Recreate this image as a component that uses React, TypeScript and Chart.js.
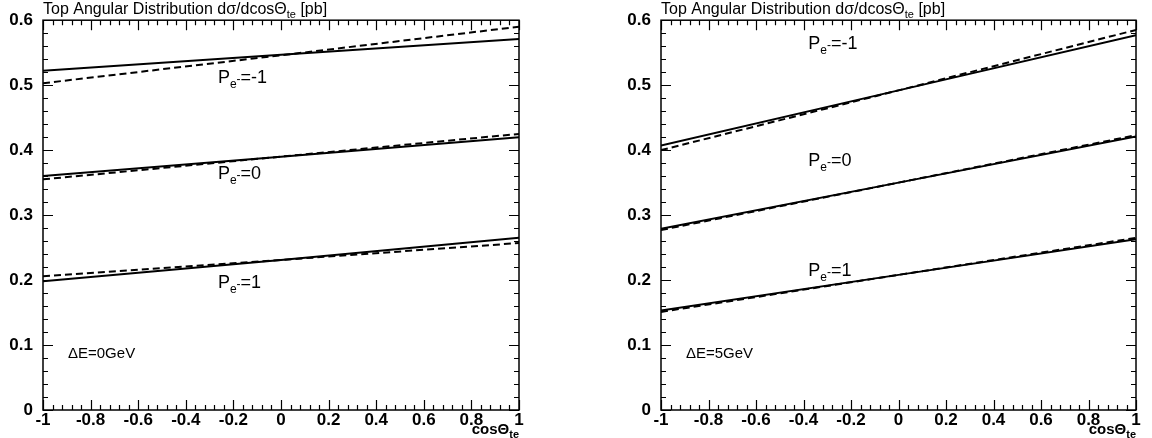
import React, { useEffect, useRef } from "react";
import { Chart, registerables } from "chart.js";

Chart.register(...registerables);

// ---------- data ----------
const cosTheta = [-1, 0, 1];

// ΔE = 0 GeV panel
const dE0_Pm1_solid = [0.522, 0.547, 0.571];
const dE0_Pm1_dashed = [0.503, 0.546, 0.59];
const dE0_P0_solid = [0.36, 0.39, 0.42];
const dE0_P0_dashed = [0.355, 0.39, 0.425];
const dE0_P1_solid = [0.198, 0.231, 0.265];
const dE0_P1_dashed = [0.206, 0.231, 0.257];

// ΔE = 5 GeV panel
const dE5_Pm1_solid = [0.407, 0.492, 0.577];
const dE5_Pm1_dashed = [0.4, 0.492, 0.585];
const dE5_P0_solid = [0.279, 0.35, 0.421];
const dE5_P0_dashed = [0.277, 0.35, 0.423];
const dE5_P1_solid = [0.153, 0.208, 0.263];
const dE5_P1_dashed = [0.151, 0.208, 0.265];

const xTicks = [-1, -0.8, -0.6, -0.4, -0.2, 0, 0.2, 0.4, 0.6, 0.8, 1];
const yTicks = [0, 0.1, 0.2, 0.3, 0.4, 0.5, 0.6];

// annotation labels: [polarisation value text, x, baseline y]
const dE0_labels: [string, number, number][] = [
  ["=-1", -0.265, 0.503],
  ["=0", -0.265, 0.356],
  ["=1", -0.265, 0.188],
];
const dE5_labels: [string, number, number][] = [
  ["=-1", -0.38, 0.556],
  ["=0", -0.38, 0.376],
  ["=1", -0.38, 0.207],
];

const FONT = "'Liberation Sans', Arial, Helvetica, sans-serif";

type Seg = [string, number, number, string?];

function drawRich(ctx: CanvasRenderingContext2D, x: number, y: number, segs: Seg[]) {
  let cx = x;
  ctx.textAlign = "left";
  ctx.textBaseline = "alphabetic";
  for (const [t, size, dy, weight] of segs) {
    ctx.font = `${weight || "normal"} ${size}px ${FONT}`;
    ctx.fillText(t, cx, y + dy);
    cx += ctx.measureText(t).width;
  }
  return cx;
}

function richWidth(ctx: CanvasRenderingContext2D, segs: Seg[]) {
  let w = 0;
  for (const [t, size, , weight] of segs) {
    ctx.font = `${weight || "normal"} ${size}px ${FONT}`;
    w += ctx.measureText(t).width;
  }
  return w;
}

function makeLine(data: number[], dashed: boolean) {
  return {
    data: cosTheta.map((c, i) => ({ x: c, y: data[i] })),
    borderColor: "#000",
    borderWidth: 2,
    borderDash: dashed ? [7, 4] : [],
    pointRadius: 0,
    fill: false,
    tension: 0,
  };
}

function fmt(v: number) {
  const r = Math.round(v * 10) / 10;
  return String(r === 0 ? 0 : r);
}

interface PanelProps {
  series: number[][];
  labels: [string, number, number][];
  deltaE: string;
  axisLeft: number;
  padRight: number;
}

function Panel({ series, labels, deltaE, axisLeft, padRight }: PanelProps) {
  const ref = useRef<HTMLCanvasElement | null>(null);

  useEffect(() => {
    if (!ref.current) return;

    const framePlugin = {
      id: "frameTicks",
      afterDraw(chart: any) {
        const ctx: CanvasRenderingContext2D = chart.ctx;
        const { left, right, top, bottom } = chart.chartArea;
        const xs = chart.scales.x;
        const ys = chart.scales.y;
        ctx.save();
        ctx.strokeStyle = "#000";
        ctx.lineWidth = 1.5;
        ctx.setLineDash([]);
        ctx.strokeRect(left, top, right - left, bottom - top);
        ctx.lineWidth = 1.2;
        ctx.beginPath();
        for (let i = 0; i <= 50; i++) {
          const v = -1 + i * 0.04;
          const px = Math.round(xs.getPixelForValue(v)) + 0.5;
          const len = i % 5 === 0 ? 10 : 5;
          ctx.moveTo(px, bottom);
          ctx.lineTo(px, bottom - len);
          ctx.moveTo(px, top);
          ctx.lineTo(px, top + len);
        }
        for (let i = 0; i <= 30; i++) {
          const v = i * 0.02;
          const py = Math.round(ys.getPixelForValue(v)) + 0.5;
          const len = i % 5 === 0 ? 10 : 5;
          ctx.moveTo(left, py);
          ctx.lineTo(left + len, py);
          ctx.moveTo(right, py);
          ctx.lineTo(right - len, py);
        }
        ctx.stroke();

        // texts
        ctx.fillStyle = "#000";
        // title
        drawRich(ctx, left, 14, [
          ["Top Angular Distribution d\u03c3/dcos\u0398", 16, 0],
          ["te", 11, 4],
          [" [pb]", 16, 0],
        ]);
        // x axis title
        const xt: Seg[] = [
          ["cos\u0398", 15, 0, "bold"],
          ["te", 11, 4, "bold"],
        ];
        const w = richWidth(ctx, xt);
        drawRich(ctx, right - w, 434, xt);
        // annotations
        for (const [t, lx, ly] of labels) {
          const px = xs.getPixelForValue(lx);
          const py = ys.getPixelForValue(ly);
          drawRich(ctx, px, py, [
            ["P", 18, 0],
            ["e", 12, 5],
            ["-", 12, 0],
            [t, 18, 0],
          ]);
        }
        ctx.font = `normal 15px ${FONT}`;
        ctx.fillText(deltaE, xs.getPixelForValue(-0.895), ys.getPixelForValue(0.08));
        ctx.restore();
      },
    };

    const chart = new Chart(ref.current, {
      type: "line",
      data: {
        datasets: [
          makeLine(series[0], false),
          makeLine(series[1], true),
          makeLine(series[2], false),
          makeLine(series[3], true),
          makeLine(series[4], false),
          makeLine(series[5], true),
        ],
      },
      options: {
        responsive: false,
        animation: false,
        events: [],
        layout: { padding: { top: 19, right: padRight, left: 0, bottom: 0 } },
        plugins: {
          legend: { display: false },
          tooltip: { enabled: false },
          title: { display: false },
        },
        scales: {
          x: {
            type: "linear",
            min: -1,
            max: 1,
            afterBuildTicks(scale: any) {
              scale.ticks = xTicks.map((v) => ({ value: v }));
            },
            afterFit(scale: any) {
              scale.height = 28;
            },
            ticks: {
              callback: (v: any) => fmt(Number(v)),
              font: { family: FONT, size: 17, weight: "bold" },
              color: "#000",
              maxRotation: 0,
              autoSkip: false,
              padding: 0,
            },
            grid: { display: false, drawTicks: false },
            border: { display: false },
          },
          y: {
            type: "linear",
            min: 0,
            max: 0.6,
            afterBuildTicks(scale: any) {
              scale.ticks = yTicks.map((v) => ({ value: v }));
            },
            afterFit(scale: any) {
              scale.width = axisLeft;
            },
            ticks: {
              callback: (v: any) => fmt(Number(v)),
              font: { family: FONT, size: 17, weight: "bold" },
              color: "#000",
              autoSkip: false,
              padding: 10,
            },
            grid: { display: false, drawTicks: false },
            border: { display: false },
          },
        },
      } as any,
      plugins: [framePlugin],
    });
    return () => chart.destroy();
  }, []);

  return <canvas ref={ref} width={576} height={438} style={{ display: "block" }} />;
}

export default function App() {
  useEffect(() => {
    document.body.style.margin = "0";
    document.body.style.background = "#fff";
  }, []);
  return (
    <div style={{ display: "flex", width: 1152, height: 438, background: "#fff" }}>
      <Panel
        series={[dE0_Pm1_solid, dE0_Pm1_dashed, dE0_P0_solid, dE0_P0_dashed, dE0_P1_solid, dE0_P1_dashed]}
        labels={dE0_labels}
        deltaE={"\u0394E=0GeV"}
        axisLeft={43}
        padRight={57}
      />
      <Panel
        series={[dE5_Pm1_solid, dE5_Pm1_dashed, dE5_P0_solid, dE5_P0_dashed, dE5_P1_solid, dE5_P1_dashed]}
        labels={dE5_labels}
        deltaE={"\u0394E=5GeV"}
        axisLeft={85}
        padRight={16}
      />
    </div>
  );
}
